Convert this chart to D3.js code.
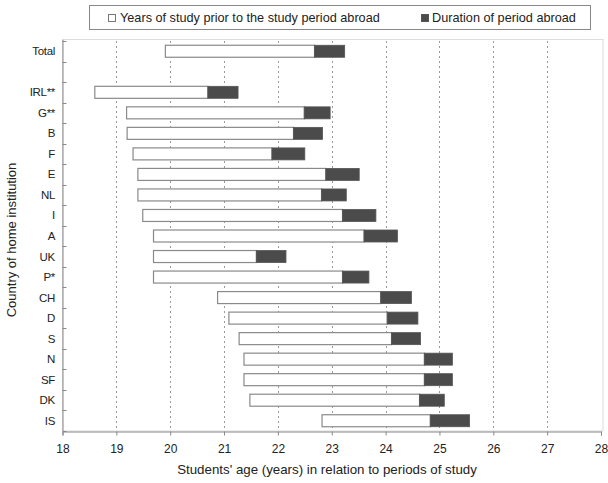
<!DOCTYPE html>
<html><head><meta charset="utf-8">
<script src="https://cdn.jsdelivr.net/npm/d3@7"></script>
<style>body{margin:0;background:#fff}svg{display:block;font-family:"Liberation Sans",Arial,sans-serif}</style>
</head><body>
<svg id="c" width="608" height="483"></svg>
<script>
const rows = ["Total", "", "IRL**", "G**", "B", "F", "E", "NL", "I", "A", "UK", "P*", "CH", "D", "S", "N", "SF", "DK", "IS"];
const categories = ["Total", "IRL**", "G**", "B", "F", "E", "NL", "I", "A", "UK", "P*", "CH", "D", "S", "N", "SF", "DK", "IS"];
const startAge = [19.91, 18.60, 19.19, 19.20, 19.31, 19.40, 19.40, 19.49, 19.69, 19.69, 19.69, 20.88, 21.09, 21.28, 21.37, 21.37, 21.48, 22.82];
const abroadStart = [22.68, 20.70, 22.49, 22.29, 21.89, 22.89, 22.81, 23.20, 23.60, 21.60, 23.20, 23.91, 24.03, 24.11, 24.72, 24.72, 24.63, 24.83];
const abroadEnd = [23.24, 21.26, 22.97, 22.83, 22.50, 23.51, 23.27, 23.82, 24.22, 22.15, 23.69, 24.48, 24.60, 24.65, 25.24, 25.24, 25.09, 25.56];
const xTicks = [18, 19, 20, 21, 22, 23, 24, 25, 26, 27, 28];
const legendLabels = ["Years of study prior to the study period abroad", "Duration of period abroad"];

const svg = d3.select("#c");
const L = 62.5, R = 601, T = 41, B = 431;
const x = d3.scaleLinear().domain([18, 28]).range([L, R]);
const y = d3.scaleBand().domain(rows.map((r, i) => i)).range([T, B]);
const rowIndex = c => rows.indexOf(c);
const bh = 12;

// plot frame (light)
svg.append("rect").attr("x", L).attr("y", T - 1.5).attr("width", R - L + 2).attr("height", B - T + 1.5)
  .attr("fill", "none").attr("stroke", "#dcdcdc").attr("stroke-width", 1);

// gridlines
svg.append("g").selectAll("line").data(xTicks.slice(1, -1)).join("line")
  .attr("x1", d => Math.round(x(d)) + 0.5).attr("x2", d => Math.round(x(d)) + 0.5)
  .attr("y1", T).attr("y2", B)
  .attr("stroke", "#9a9a9a").attr("stroke-dasharray", "2,3").attr("stroke-width", 1);

// x axis
const xa = svg.append("g").attr("transform", `translate(0,${B + 0.5})`)
  .call(d3.axisBottom(x).tickValues(xTicks).tickSize(4).tickPadding(9).tickFormat(d3.format("d")));
xa.select(".domain").attr("stroke", "#888");
xa.selectAll(".tick line").attr("stroke", "#888");
xa.selectAll("text").attr("font-size", 12).attr("fill", "#222");

// y axis
svg.append("line").attr("x1", L + 0.5).attr("x2", L + 0.5).attr("y1", T - 1).attr("y2", B)
  .attr("stroke", "#888");
svg.append("g").selectAll("line").data(d3.range(rows.length + 1)).join("line")
  .attr("x1", L).attr("x2", L + 4)
  .attr("y1", i => Math.round(T + i * y.step()) + 0.5).attr("y2", i => Math.round(T + i * y.step()) + 0.5)
  .attr("stroke", "#888");
svg.append("g").selectAll("text").data(categories).join("text")
  .attr("x", 55).attr("y", c => y(rowIndex(c)) + y.bandwidth() / 2)
  .attr("dy", "0.35em").attr("text-anchor", "end")
  .attr("font-size", 11.5).attr("fill", "#222").attr("letter-spacing", "-0.3")
  .text(c => c);

// bars
const g = svg.append("g");
categories.forEach((c, i) => {
  const yc = y(rowIndex(c)) + y.bandwidth() / 2 - bh / 2;
  g.append("rect").attr("x", x(startAge[i])).attr("y", yc)
    .attr("width", x(abroadStart[i]) - x(startAge[i])).attr("height", bh)
    .attr("fill", "#fff").attr("stroke", "#8a8a8a").attr("stroke-width", 1.2);
  g.append("rect").attr("x", x(abroadStart[i])).attr("y", yc)
    .attr("width", x(abroadEnd[i]) - x(abroadStart[i])).attr("height", bh)
    .attr("fill", "#4b4b4b").attr("stroke", "#555").attr("stroke-width", 0.8);
});

// axis titles
svg.append("text").attr("x", 327).attr("y", 474).attr("text-anchor", "middle")
  .attr("font-size", 13.3).attr("fill", "#222").text("Students' age (years) in relation to periods of study");
svg.append("text").attr("transform", "translate(16,240) rotate(-90)").attr("text-anchor", "middle")
  .attr("font-size", 13).attr("fill", "#222").text("Country of home institution");

// legend
svg.append("rect").attr("x", 89.5).attr("y", 5.5).attr("width", 501).attr("height", 24)
  .attr("fill", "#fff").attr("stroke", "#888");
svg.append("rect").attr("x", 108.5).attr("y", 14.5).attr("width", 7).attr("height", 7)
  .attr("fill", "#fff").attr("stroke", "#777");
svg.append("text").attr("x", 120).attr("y", 17.5).attr("dy", "0.35em").attr("font-size", 12.7)
  .attr("fill", "#222").text(legendLabels[0]);
svg.append("rect").attr("x", 421.5).attr("y", 14.5).attr("width", 7).attr("height", 7)
  .attr("fill", "#4b4b4b").attr("stroke", "#555");
svg.append("text").attr("x", 432).attr("y", 17.5).attr("dy", "0.35em").attr("font-size", 12.7)
  .attr("fill", "#222").text(legendLabels[1]);
</script>
</body></html>
